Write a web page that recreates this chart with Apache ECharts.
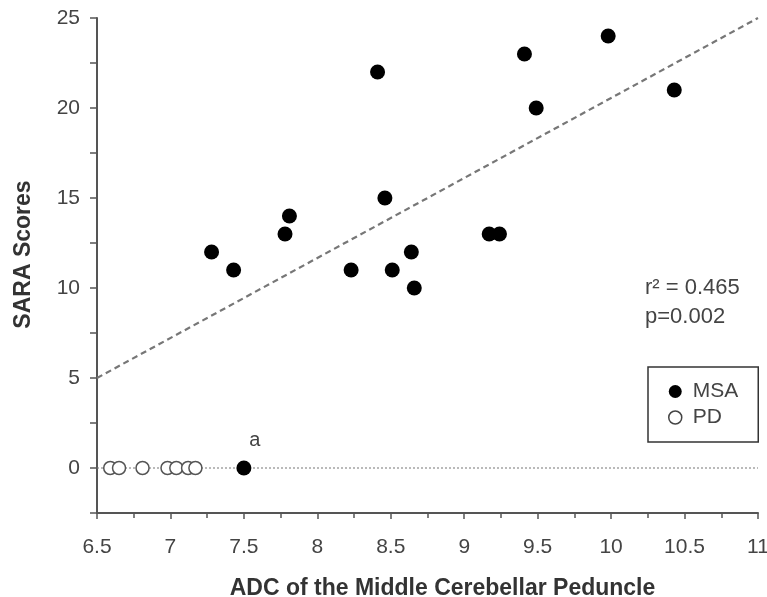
<!DOCTYPE html>
<html>
<head>
<meta charset="utf-8">
<script src="https://cdn.jsdelivr.net/npm/echarts@6/dist/echarts.min.js"></script>
<style>html,body{margin:0;padding:0;background:#fff;overflow:hidden;}#chart{width:767px;height:597px;}</style>
</head>
<body>
<div id="chart"></div>
<script>
var msaX = [7.28, 7.43, 7.78, 7.81, 8.23, 8.41, 8.46, 8.51, 8.64, 8.66, 9.17, 9.24, 9.41, 9.49, 9.98, 10.43, 7.5];
var msaY = [12, 11, 13, 14, 11, 22, 15, 11, 12, 10, 13, 13, 23, 20, 24, 21, 0];
var pdX = [6.59, 6.65, 6.81, 6.98, 7.04, 7.12, 7.17];
var pdY = [0, 0, 0, 0, 0, 0, 0];
var fitX = [6.5, 11];
var fitY = [5, 25];
var zeroX = [6.5, 11];
var zeroY = [0, 0];
var labelledPointIndex = 16;
var statsText = ['r\u00B2 = 0.465', 'p=0.002'];

var font = 'Liberation Sans, Arial, sans-serif';
var msaData = msaX.map(function (x, i) {
  var d = { value: [x, msaY[i]] };
  if (i === labelledPointIndex) {
    d.label = { show: true, formatter: 'a', position: 'top', distance: 10, offset: [11, 0],
      fontSize: 20, color: '#444', fontFamily: font };
  }
  return d;
});
var pdData = pdX.map(function (x, i) { return [x, pdY[i]]; });
var fitData = fitX.map(function (x, i) { return [x, fitY[i]]; });
var zeroData = zeroX.map(function (x, i) { return [x, zeroY[i]]; });

var axisColor = '#555';
var chart = echarts.init(document.getElementById('chart'), null, { renderer: 'canvas', width: 767, height: 597 });
chart.setOption({
  animation: false,
  backgroundColor: '#fff',
  grid: { left: 97, right: 9, top: 18, bottom: 84, containLabel: false, outerBoundsMode: 'none' },
  xAxis: {
    type: 'value', min: 6.5, max: 11, interval: 0.5,
    name: 'ADC of the Middle Cerebellar Peduncle', nameLocation: 'middle', nameGap: 64,
    nameTextStyle: { fontSize: 23, fontWeight: 'bold', color: '#333', fontFamily: font, padding: [0, 0, 0, 30] },
    axisLine: { show: true, onZero: false, lineStyle: { color: axisColor, width: 2 } },
    axisTick: { show: true, inside: false, length: 6, lineStyle: { color: axisColor, width: 1.5 } },
    minorTick: { show: true, splitNumber: 2, length: 5, lineStyle: { color: axisColor, width: 1.5 } },
    axisLabel: { fontSize: 21, color: '#444', margin: 24, fontFamily: font },
    splitLine: { show: false }
  },
  yAxis: {
    type: 'value', min: -2.5, max: 25, interval: 2.5,
    name: 'SARA Scores', nameLocation: 'middle', nameGap: 62, nameRotate: 90,
    nameTextStyle: { fontSize: 23, fontWeight: 'bold', color: '#333', fontFamily: font, padding: [0, 0, 0, 22] },
    axisLine: { show: true, onZero: false, lineStyle: { color: axisColor, width: 2 } },
    axisTick: { show: true, inside: false, length: 7, lineStyle: { color: axisColor, width: 1.5 } },
    axisLabel: {
      fontSize: 21, color: '#444', margin: 17, fontFamily: font,
      formatter: function (v) { return (v >= 0 && Math.abs(v % 5) < 1e-9) ? String(v) : ''; }
    },
    splitLine: { show: false }
  },
  legend: {
    orient: 'vertical', left: 648, top: 367,
    padding: [14, 20, 14, 20],
    borderColor: '#333', borderWidth: 1.5,
    itemWidth: 13, itemHeight: 13, itemGap: 5,
    textStyle: { fontSize: 21, color: '#444', fontFamily: font, padding: [0, 0, 0, 6] },
    data: [
      { name: 'MSA', icon: 'circle', itemStyle: { color: '#000', borderWidth: 0 } },
      { name: 'PD', icon: 'circle', itemStyle: { color: '#fff', borderColor: '#444', borderWidth: 1.5 } }
    ]
  },
  graphic: [
    { type: 'text', left: 645, top: 277, style: { text: statsText[0], fontSize: 22, fill: '#444', fontFamily: font } },
    { type: 'text', left: 645, top: 306, style: { text: statsText[1], fontSize: 22, fill: '#444', fontFamily: font } }
  ],
  series: [
    {
      name: 'zero', type: 'line', data: zeroData, symbol: 'none', silent: true, z: 1,
      lineStyle: { color: '#777', width: 1, type: [2, 2] }
    },
    {
      name: 'fit', type: 'line', data: fitData, symbol: 'none', silent: true, z: 1,
      lineStyle: { color: '#777', width: 2.2, type: [6, 4] }
    },
    {
      name: 'PD', type: 'scatter', data: pdData, symbol: 'circle', symbolSize: 13, z: 3,
      itemStyle: { color: '#fff', borderColor: '#555', borderWidth: 1.5, opacity: 1 }
    },
    {
      name: 'MSA', type: 'scatter', data: msaData, symbol: 'circle', symbolSize: 15, z: 4,
      itemStyle: { color: '#000', opacity: 1 }
    }
  ]
});
</script>
</body>
</html>
